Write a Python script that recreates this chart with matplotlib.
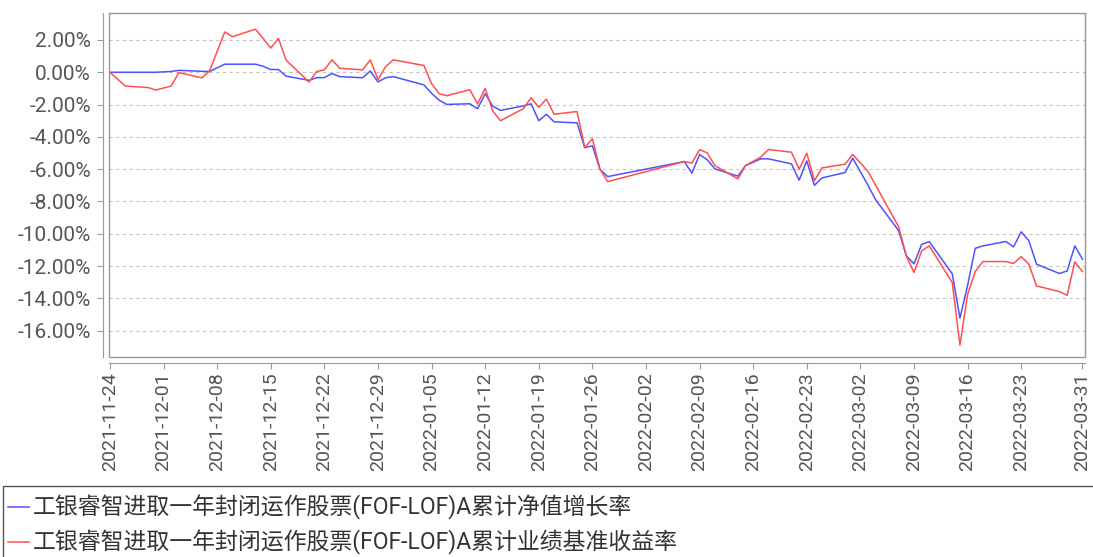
import matplotlib
matplotlib.use("Agg")
import matplotlib.pyplot as plt
import matplotlib.dates as mdates
from matplotlib.patches import Rectangle
from matplotlib.lines import Line2D
import pandas as pd

dates = ["2021-11-24", "2021-11-26", "2021-11-29", "2021-11-30", "2021-12-02", "2021-12-03",
         "2021-12-06", "2021-12-07", "2021-12-09", "2021-12-10", "2021-12-13", "2021-12-14",
         "2021-12-15", "2021-12-16", "2021-12-17", "2021-12-20", "2021-12-21", "2021-12-22",
         "2021-12-23", "2021-12-24", "2021-12-27", "2021-12-28", "2021-12-29", "2021-12-30",
         "2021-12-31", "2022-01-04", "2022-01-05", "2022-01-06", "2022-01-07", "2022-01-10",
         "2022-01-11", "2022-01-12", "2022-01-13", "2022-01-14", "2022-01-17", "2022-01-18",
         "2022-01-19", "2022-01-20", "2022-01-21", "2022-01-24", "2022-01-25", "2022-01-26",
         "2022-01-27", "2022-01-28", "2022-02-07", "2022-02-08", "2022-02-09", "2022-02-10",
         "2022-02-11", "2022-02-14", "2022-02-15", "2022-02-17", "2022-02-18", "2022-02-21",
         "2022-02-22", "2022-02-23", "2022-02-24", "2022-02-25", "2022-02-28", "2022-03-01",
         "2022-03-03", "2022-03-04", "2022-03-07", "2022-03-08", "2022-03-09", "2022-03-10",
         "2022-03-11", "2022-03-14", "2022-03-15", "2022-03-16", "2022-03-17", "2022-03-18",
         "2022-03-21", "2022-03-22", "2022-03-23", "2022-03-24", "2022-03-25", "2022-03-28",
         "2022-03-29", "2022-03-30", "2022-03-31"]

nav_growth = [0.00, 0.00, 0.00, 0.00, 0.05, 0.12,
              0.06, 0.05, 0.50, 0.50, 0.50, 0.37,
              0.17, 0.17, -0.24, -0.50, -0.33, -0.33,
              -0.08, -0.27, -0.34, 0.08, -0.60, -0.34,
              -0.27, -0.78, -1.30, -1.73, -1.99, -1.95,
              -2.26, -1.33, -2.10, -2.36, -2.08, -1.95,
              -3.00, -2.60, -3.07, -3.13, -4.67, -4.55,
              -6.02, -6.46, -5.53, -6.25, -5.09, -5.42,
              -5.98, -6.43, -5.78, -5.36, -5.36, -5.67,
              -6.68, -5.49, -7.00, -6.54, -6.21, -5.32,
              -7.00, -7.90, -9.81, -11.37, -11.86, -10.66,
              -10.49, -12.48, -15.22, -13.20, -10.90, -10.75,
              -10.48, -10.81, -9.88, -10.43, -11.88, -12.46,
              -12.30, -10.75, -11.57]

benchmark = [0.00, -0.85, -0.95, -1.10, -0.85, -0.02,
             -0.35, 0.08, 2.50, 2.20, 2.67, 2.10,
             1.50, 2.10, 0.75, -0.60, 0.05, 0.15,
             0.77, 0.25, 0.15, 0.77, -0.45, 0.35,
             0.77, 0.42, -0.70, -1.33, -1.45, -1.08,
             -1.95, -1.00, -2.40, -3.00, -2.25, -1.57,
             -2.17, -1.66, -2.60, -2.43, -4.65, -4.12,
             -6.00, -6.77, -5.53, -5.62, -4.79, -4.99,
             -5.78, -6.60, -5.78, -5.25, -4.78, -4.95,
             -6.00, -5.01, -6.71, -5.92, -5.69, -5.09,
             -6.14, -7.00, -9.57, -11.37, -12.40, -11.06,
             -10.75, -13.02, -16.90, -13.75, -12.34, -11.72,
             -11.72, -11.84, -11.41, -11.88, -13.23, -13.58,
             -13.81, -11.74, -12.34]

y_ticks = [2, 0, -2, -4, -6, -8, -10, -12, -14, -16]
series_names = ["工银睿智进取一年封闭运作股票(FOF-LOF)A累计净值增长率",
                "工银睿智进取一年封闭运作股票(FOF-LOF)A累计业绩基准收益率"]

x = pd.to_datetime(dates)
W, H = 1093, 557
fig = plt.figure(figsize=(W / 100, H / 100), dpi=100)
L, R, T, B = 109, 1085, 13, 357
ax = fig.add_axes([L / W, 1 - B / H, (R - L) / W, (B - T) / H])

blue = "#5050ff"
red = "#ff4f4f"
ax.plot(x, nav_growth, color=blue, lw=1.1, zorder=3)
ax.plot(x, benchmark, color=red, lw=1.1, zorder=3)

start = pd.Timestamp("2021-11-24")
end = pd.Timestamp("2022-03-31")
ax.set_xlim(start - pd.Timedelta(hours=3), end + pd.Timedelta(hours=8))
ax.set_ylim(-17.63, 3.67)

xt = [d for d in pd.date_range(start, end, freq="7D") if (end - d).days > 3]
xt.append(end)
ax.set_xticks(xt)
ax.xaxis.set_major_formatter(mdates.DateFormatter("%Y-%m-%d"))
ax.set_yticks(y_ticks)
ax.set_yticklabels([f"{v:.2f}%" for v in y_ticks])

ax.yaxis.grid(True, color="#c4c4c4", linestyle=(0, (3, 3)), lw=0.8)
ax.xaxis.grid(False)

frame_c = "#999999"
for s in ["top", "right"]:
    ax.spines[s].set_color(frame_c)
for s in ["left", "bottom"]:
    ax.spines[s].set_position(("outward", 4))
    ax.spines[s].set_color(frame_c)
ax.add_patch(Rectangle((0, 0), 1, 1, transform=ax.transAxes, fill=False,
                       edgecolor=frame_c, lw=1, zorder=4, clip_on=False))

ax.tick_params(axis="both", colors="#999999", length=4, width=0.8, labelcolor="#555555")
ax.tick_params(axis="y", pad=5, labelsize=15)
ax.tick_params(axis="x", pad=3, labelsize=14)
for lab in ax.get_yticklabels():
    lab.set_fontfamily(["Roboto", "DejaVu Sans"])
for lab in ax.get_xticklabels():
    lab.set_fontfamily(["Roboto", "DejaVu Sans"])
    lab.set_rotation(90)

# legend box
fig.patches.append(Rectangle((3 / W, -0.01), 1.0, 1 - 486 / H + 0.01,
                             transform=fig.transFigure, fill=False,
                             edgecolor="#555555", lw=1))
rows = [507, 542]
cols = [blue, red]
for yy, c, name in zip(rows, cols, series_names):
    yf = 1 - yy / H
    fig.add_artist(Line2D([8 / W, 29 / W], [yf, yf], color=c, lw=1.1,
                          transform=fig.transFigure))
    fig.text(33 / W, yf, name, ha="left", va="center", fontsize=16.5,
             color="#333333", family=["Roboto", "Noto Sans CJK SC"])

fig.savefig("out.png", dpi=100)
